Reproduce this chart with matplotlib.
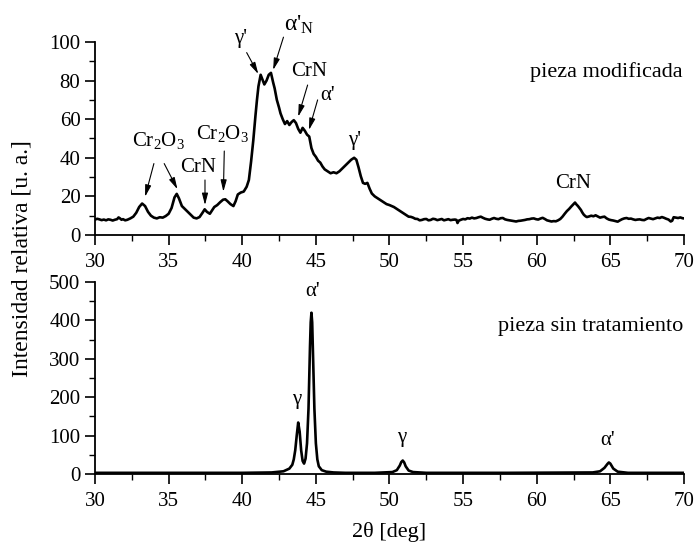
import matplotlib
matplotlib.use('Agg')
import matplotlib.pyplot as plt
from matplotlib.ticker import MultipleLocator

plt.rcParams['font.family'] = 'Liberation Serif'
plt.rcParams['mathtext.fontset'] = 'custom'
plt.rcParams['mathtext.rm'] = 'Liberation Serif'
plt.rcParams['mathtext.it'] = 'Liberation Serif:italic'

# pieza modificada (2theta, intensidad)
top_x = [30.0, 30.15, 30.3, 30.45, 30.6, 30.75, 30.9, 31.05, 31.2, 31.35, 31.5, 31.6, 31.7, 31.8,
         31.9, 32.05, 32.2, 32.4, 32.6, 32.8, 33.0, 33.2, 33.4,
         33.6, 33.8, 34.0, 34.2, 34.4, 34.6, 34.8, 35.0, 35.2, 35.4, 35.55, 35.7, 35.9, 36.1, 36.3,
         36.5, 36.7, 36.9, 37.1, 37.3, 37.45, 37.6, 37.8, 37.95, 38.1, 38.3, 38.5, 38.7, 38.85, 39.0,
         39.2, 39.4, 39.55, 39.7, 39.9, 40.1, 40.3, 40.45, 40.6, 40.75, 40.9, 41.0, 41.1, 41.25, 41.4,
         41.5, 41.65, 41.8, 41.95, 42.1, 42.2, 42.35, 42.5, 42.6, 42.75, 42.9, 43.05, 43.2, 43.35, 43.5,
         43.65, 43.8, 43.95, 44.1, 44.25, 44.4, 44.55, 44.7, 44.85, 45.0, 45.15, 45.3, 45.45, 45.6, 45.8,
         46.0, 46.2, 46.4, 46.6, 46.8, 47.0, 47.2, 47.4, 47.6, 47.75, 47.9, 48.05, 48.2, 48.35, 48.5,
         48.65, 48.8, 49.0, 49.2, 49.4, 49.6, 49.8, 50.0, 50.15, 50.3, 50.5, 50.7, 50.9, 51.1, 51.3,
         51.45, 51.6, 51.75, 51.9, 52.05, 52.2, 52.35, 52.5, 52.65, 52.8, 52.95, 53.1, 53.25, 53.4,
         53.55, 53.7, 53.85, 54.0, 54.15, 54.3, 54.45, 54.55, 54.62, 54.7, 54.85, 55.0, 55.15, 55.3,
         55.45, 55.6, 55.75, 55.9, 56.05, 56.2, 56.35, 56.5, 56.65, 56.8, 56.95, 57.1, 57.25, 57.4,
         57.55, 57.7, 57.85, 58.0, 58.15, 58.3, 58.45, 58.6, 58.75, 58.9, 59.05, 59.2, 59.35, 59.5,
         59.65, 59.8, 59.95, 60.1, 60.25, 60.4, 60.55, 60.7, 60.85, 61.0, 61.15, 61.3, 61.45, 61.6,
         61.75, 61.9, 62.05, 62.2, 62.35, 62.5, 62.6, 62.7, 62.8, 62.9, 63.0, 63.1, 63.2, 63.3, 63.4,
         63.55, 63.7, 63.85, 64.0, 64.15, 64.3, 64.45, 64.6, 64.75, 64.9, 65.05, 65.2, 65.35, 65.5,
         65.65, 65.8, 65.95, 66.1, 66.25, 66.4, 66.55, 66.7, 66.85, 67.0, 67.15, 67.3, 67.45, 67.6,
         67.75, 67.9, 68.05, 68.2, 68.35, 68.5, 68.65, 68.8, 68.95, 69.1, 69.2, 69.3, 69.45, 69.6,
         69.75, 69.9, 70.0]
top_y = [8.0, 8.4, 8.1, 7.7, 8.0, 7.6, 8.1, 7.9, 7.5, 7.9, 8.2, 9.1, 8.6, 7.9,
         8.2, 7.6, 7.9, 8.6, 9.5, 11.5, 14.5, 16.3, 15.0,
         12.0, 10.0, 9.0, 8.6, 9.2, 9.0, 9.8, 11.0, 14.0, 19.5, 21.3, 19.0, 15.0, 13.5, 12.0,
         10.5, 9.0, 8.6, 9.3, 11.5, 13.3, 12.0, 11.0, 12.8, 14.5, 15.5, 17.0, 18.3, 18.5, 17.5,
         16.0, 15.0, 17.5, 21.0, 22.0, 22.5, 25.0, 28.5, 38.0, 49.0, 62.0, 70.0, 77.0, 83.0, 80.0,
         78.0, 80.0, 83.0, 84.0, 79.0, 76.0, 70.0, 66.0, 63.0, 60.0, 57.5, 59.0, 57.0, 58.5, 59.5,
         58.0, 55.0, 53.0, 55.5, 54.0, 52.0, 51.0, 45.0, 42.0, 40.5, 38.5, 37.5, 35.5, 34.0, 33.0,
         32.0, 32.5, 32.0, 33.0, 34.5, 36.0, 37.5, 39.0, 40.0, 39.0, 35.0, 30.5, 27.0, 26.5, 27.0,
         24.0, 21.5, 20.0, 19.0, 18.0, 17.0, 16.0, 15.5, 15.0, 14.5, 13.5, 12.5, 11.5, 10.5, 9.5,
         9.4, 9.0, 8.4, 8.3, 7.6, 7.8, 8.2, 8.3, 7.6, 7.8, 8.4, 8.2, 7.7, 8.0,
         8.3, 7.6, 7.9, 8.2, 7.7, 7.9, 8.0, 7.8, 6.2, 7.4, 7.9, 8.3, 8.1, 8.7,
         8.5, 9.0, 8.6, 8.8, 9.2, 9.5, 8.9, 8.4, 8.1, 7.9, 8.4, 8.8, 8.4, 8.2,
         8.7, 8.8, 8.1, 7.8, 7.6, 7.4, 7.2, 7.0, 7.3, 7.4, 7.6, 7.8, 8.1, 8.2,
         8.5, 8.6, 8.2, 8.0, 8.5, 8.9, 8.3, 7.6, 7.3, 7.0, 7.2, 7.1, 7.6, 8.3,
         9.5, 11.0, 12.4, 13.5, 14.8, 16.0, 16.8, 15.8, 15.0, 14.0, 13.0, 11.6, 10.5, 9.8, 9.3,
         9.6, 10.0, 9.7, 10.2, 9.6, 9.0, 9.3, 9.5, 8.6, 8.0, 7.7, 7.5, 7.2, 6.9,
         7.6, 8.2, 8.6, 8.8, 8.4, 8.5, 8.1, 7.8, 8.0, 8.1, 7.8, 7.7, 8.3, 8.8,
         8.5, 8.2, 8.6, 9.0, 8.8, 9.3, 8.9, 8.4, 8.0, 7.0, 7.4, 9.2, 9.0, 8.8,
         9.1, 8.7, 8.6]

# pieza sin tratamiento
bot_x = [30, 35, 40, 42, 42.8, 43.2, 43.4, 43.5, 43.6, 43.7, 43.8, 43.9, 44.0, 44.1, 44.2, 44.3,
         44.4, 44.5, 44.6, 44.65, 44.7, 44.75, 44.8, 44.9, 45.0, 45.1, 45.2, 45.4, 45.7, 46.2, 47,
         49, 50.2, 50.5, 50.7, 50.8, 50.9, 51.0, 51.1, 51.3, 51.6, 52.5, 58, 63.8, 64.3, 64.6, 64.8,
         64.9, 65.0, 65.2, 65.5, 66.2, 70]
bot_y = [3, 3, 3, 4, 7, 14, 24, 38, 62, 100, 134, 110, 62, 34, 27, 40,
         80, 170, 330, 395, 420, 395, 320, 170, 80, 38, 20, 10, 6, 4, 3,
         3, 5, 10, 22, 31, 35, 30, 20, 9, 5, 3, 3, 4, 7, 16, 26,
         30, 27, 14, 6, 3, 3]

fig = plt.figure(figsize=(6.97, 5.46), dpi=100)
ax1 = fig.add_axes([0.1363, 0.5696, 0.845, 0.3535])
ax2 = fig.add_axes([0.1363, 0.1319, 0.845, 0.3516])

ax1.plot(top_x, top_y, color='black', lw=1.9)
ax2.plot(bot_x, bot_y, color='black', lw=1.9)

ax1.set_ylim(0, 100)
ax2.set_ylim(0, 500)
for ax, major, minor in [(ax1, 20, 10), (ax2, 100, 50)]:
    ax.set_xlim(30, 70)
    ax.xaxis.set_major_locator(MultipleLocator(5))
    ax.xaxis.set_minor_locator(MultipleLocator(2.5))
    ax.yaxis.set_major_locator(MultipleLocator(major))
    ax.yaxis.set_minor_locator(MultipleLocator(minor))
    ax.spines['top'].set_visible(False)
    ax.spines['right'].set_visible(False)
    ax.spines['left'].set_linewidth(1.3)
    ax.spines['bottom'].set_linewidth(1.3)
    ax.tick_params(which='major', direction='out', length=7, width=1.2, labelsize=15)
    ax.tick_params(axis='x', which='major', pad=6)
    ax.tick_params(which='minor', direction='out', length=4, width=1.0)

arrow = dict(arrowstyle='-|>,head_width=0.18,head_length=0.7', lw=0.8, color='black',
             shrinkA=0, shrinkB=0)
fs = 15

ax1.text(34.3, 49.0, 'Cr$_2$O$_3$', ha='center', va='center', fontsize=fs)
ax1.annotate('', xy=(33.4, 19.8), xytext=(34.0, 37.0), arrowprops=arrow)
ax1.annotate('', xy=(35.6, 23.7), xytext=(34.7, 37.0), arrowprops=arrow)
ax1.text(37.0, 35.0, 'CrN', ha='center', va='center', fontsize=fs)
ax1.annotate('', xy=(37.47, 15.5), xytext=(37.47, 28.5), arrowprops=arrow)
ax1.text(38.66, 52.5, 'Cr$_2$O$_3$', ha='center', va='center', fontsize=fs)
ax1.annotate('', xy=(38.72, 22.4), xytext=(38.78, 43.5), arrowprops=arrow)
ax1.text(39.9, 102, "γ'", ha='center', va='center', fontsize=fs)
ax1.annotate('', xy=(41.09, 83.4), xytext=(40.3, 94.5), arrowprops=arrow)
ax1.text(43.9, 109, "α'$_\\mathregular{N}$", ha='center', va='center', fontsize=fs + 2)
ax1.annotate('', xy=(42.1, 85.5), xytext=(42.8, 102.5), arrowprops=arrow)
ax1.text(44.57, 84.7, 'CrN', ha='center', va='center', fontsize=fs)
ax1.annotate('', xy=(43.8, 61.3), xytext=(44.44, 77.7), arrowprops=arrow)
ax1.text(45.8, 72.5, "α'", ha='center', va='center', fontsize=fs)
ax1.annotate('', xy=(44.53, 54.4), xytext=(45.12, 70.0), arrowprops=arrow)
ax1.text(47.66, 49.2, "γ'", ha='center', va='center', fontsize=fs)
ax1.text(62.5, 26.7, 'CrN', ha='center', va='center', fontsize=fs)
ax1.text(69.93, 84.5, 'pieza modificada', ha='right', va='center', fontsize=fs + 1)

ax2.text(43.7, 193, 'γ', ha='center', va='center', fontsize=fs)
ax2.text(44.77, 476, "α'", ha='center', va='center', fontsize=fs)
ax2.text(50.82, 96, 'γ', ha='center', va='center', fontsize=fs)
ax2.text(64.8, 88, "α'", ha='center', va='center', fontsize=fs)
ax2.text(69.93, 385, 'pieza sin tratamiento', ha='right', va='center', fontsize=fs + 1)

ax2.set_xlabel('2θ [deg]', fontsize=16, labelpad=8)
fig.text(0.032, 0.527, 'Intensidad relativa [u. a.]', rotation=90, ha='center', va='center',
         fontsize=17)

fig.savefig('out.png', dpi=100)
